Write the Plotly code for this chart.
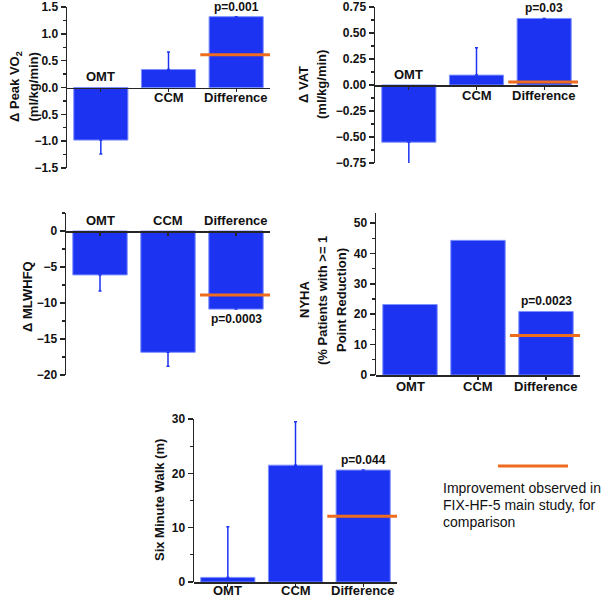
import plotly.graph_objects as go

categories = ["OMT", "CCM", "Difference"]

peak_vo2 = [-0.98, 0.335, 1.32]
peak_vo2_err = [0.26, 0.325, None]
peak_vo2_ref = 0.61
peak_vo2_p = "p=0.001"

vat = [-0.55, 0.095, 0.64]
vat_err = [0.215, 0.262, None]
vat_ref = 0.028
vat_p = "p=0.03"

mlwhfq = [-6.1, -16.85, -10.85]
mlwhfq_err = [2.25, 1.95, None]
mlwhfq_ref = -8.9
mlwhfq_p = "p=0.0003"

nyha = [23.2, 44.3, 20.9]
nyha_ref = 13.0
nyha_p = "p=0.0023"

smw = [0.85, 21.5, 20.6]
smw_err = [9.3, 8.0, None]
smw_ref = 12.1
smw_p = "p=0.044"

W, H = 609, 599
FONT = "Liberation Sans, Arial, sans-serif"
BLUE = "#1c33f2"
EDGE = "#7d90ff"
ORANGE = "#ee6c1e"
AXC = "#262626"

fig = go.Figure()

panels = [
    dict(v=peak_vo2, e=peak_vo2_err, ref=peak_vo2_ref, p=peak_vo2_p, pside="above",
         dom=(67, 270, 7, 168), yr=[-1.5, 1.5], dt=0.5, mdt=0.25, fmt=".1f",
         lab=["above", "below", "below"], zero=True, bshift=-1),
    dict(v=vat, e=vat_err, ref=vat_ref, p=vat_p, pside="above",
         dom=(375, 578, 7, 163), yr=[-0.75, 0.75], dt=0.25, mdt=0.125, fmt=".2f",
         lab=["above", "below", "below"], zero=True, bshift=-1),
    dict(v=mlwhfq, e=mlwhfq_err, ref=mlwhfq_ref, p=mlwhfq_p, pside="below",
         dom=(66, 270, 213, 375), yr=[-20, 2.5], dt=5, mdt=2.5, fmt="",
         lab=["above", "above", "above"], zero=True, bshift=0),
    dict(v=nyha, e=None, ref=nyha_ref, p=nyha_p, pside="above",
         dom=(376, 580, 213, 375), yr=[0, 53.3], dt=10, mdt=5, fmt="",
         lab=["below", "below", "below"], zero=False, bshift=-2),
    dict(v=smw, e=smw_err, ref=smw_ref, p=smw_p, pside="above",
         dom=(194, 397, 419, 582), yr=[0, 30], dt=10, mdt=5, fmt="",
         lab=["below", "below", "below"], zero=False, bshift=1),
]

annotations = []
xs = [0, 1, 2]

for i, pn in enumerate(panels, start=1):
    xa = "x" if i == 1 else f"x{i}"
    ya = "y" if i == 1 else f"y{i}"
    x0, x1, yt, yb = pn["dom"]
    xdom = [x0 / W, x1 / W]
    ydom = [1 - yb / H, 1 - yt / H]

    err = None
    if pn["e"] is not None:
        up = [None if e is None else (e if v >= 0 else 0) for v, e in zip(pn["v"], pn["e"])]
        dn = [None if e is None else (e if v < 0 else 0) for v, e in zip(pn["v"], pn["e"])]
        err = dict(type="data", symmetric=False, array=up, arrayminus=dn,
                   color=BLUE, thickness=1.5, width=1.5)
    fig.add_trace(go.Bar(x=xs, y=pn["v"], width=0.8, marker=dict(color=BLUE, line=dict(color=EDGE, width=1)),
                         error_y=err, xaxis=xa, yaxis=ya, showlegend=False, hoverinfo="skip"))
    fig.add_trace(go.Scatter(x=[1.47, 2.5], y=[pn["ref"], pn["ref"]], mode="lines",
                             line=dict(color=ORANGE, width=3), xaxis=xa, yaxis=ya,
                             showlegend=False, hoverinfo="skip"))

    yr = pn["yr"]
    zero_pos = ydom[0] + (0 - yr[0]) / (yr[1] - yr[0]) * (ydom[1] - ydom[0])
    xkey = "xaxis" if i == 1 else f"xaxis{i}"
    ykey = "yaxis" if i == 1 else f"yaxis{i}"
    fig.update_layout(**{
        xkey: dict(domain=xdom, range=[-0.5, 2.5], anchor="free", position=zero_pos,
                   showline=True, linecolor=AXC, linewidth=1.5, ticks="outside",
                   tickvals=xs, ticklen=3, tickwidth=1.2, tickcolor=AXC, automargin=False,
                   showticklabels=False, showgrid=False, zeroline=False, fixedrange=True),
        ykey: dict(domain=ydom, range=yr, anchor=xa, showline=True, linecolor=AXC, linewidth=1.5,
                   ticks="outside", ticklen=5, tickwidth=1.5, tickcolor=AXC, dtick=pn["dt"], tick0=0,
                   tickformat=pn["fmt"], showgrid=False, zeroline=False, automargin=False,
                   minor=dict(dtick=pn["mdt"], tick0=0, ticks="outside", ticklen=3, tickwidth=1.2, tickcolor=AXC),
                   tickfont=dict(family=FONT, size=12, color="#111", weight="bold"), fixedrange=True),
    })

    ref_y = 0 if pn["zero"] else yr[0]
    for k, (c, side) in enumerate(zip(categories, pn["lab"])):
        annotations.append(dict(x=k, y=ref_y, xref=xa, yref=ya, text=f"<b>{c}</b>", showarrow=False,
                                yanchor="bottom" if side == "above" else "top",
                                yshift=1 if side == "above" else pn["bshift"],
                                font=dict(family=FONT, size=13, color="#111")))
    vd = pn["v"][2]
    annotations.append(dict(x=2, y=vd, xref=xa, yref=ya, text=f"<b>{pn['p']}</b>", showarrow=False,
                            yanchor="bottom" if pn["pside"] == "above" else "top",
                            yshift=1 if pn["pside"] == "above" else -1,
                            font=dict(family=FONT, size=12, color="#111")))

ytitles = [
    ("Δ Peak VO<sub>2</sub>", 16, 87),
    ("(ml/kg/min)", 33.5, 87),
    ("Δ VAT", 304, 85),
    ("(ml/kg/min)", 322, 85),
    ("Δ MLWHFQ", 27, 297),
    ("NYHA", 304, 300),
    ("(% Patients with >= 1", 322, 301),
    ("Point Reduction)", 341, 300),
    ("Six Minute Walk (m)", 159, 500),
]
for t, px, py in ytitles:
    annotations.append(dict(x=px / W, y=1 - py / H, xref="paper", yref="paper", text=f"<b>{t}</b>",
                            textangle=-90, showarrow=False, xanchor="center", yanchor="middle",
                            font=dict(family=FONT, size=13, color="#111")))

legend_lines = ["Improvement observed in", "FIX-HF-5 main study, for", "comparison"]
for t, py in zip(legend_lines, [488, 505, 522]):
    annotations.append(dict(x=441 / W, y=1 - py / H, xref="paper", yref="paper", text=t,
                            showarrow=False, xanchor="left", yanchor="middle",
                            font=dict(family=FONT, size=14, color="#111")))

fig.update_layout(
    width=W, height=H, margin=dict(l=0, r=0, t=0, b=0, autoexpand=False),
    paper_bgcolor="white", plot_bgcolor="white", showlegend=False,
    annotations=annotations, bargap=0.2,
    shapes=[dict(type="line", xref="paper", yref="paper", x0=498 / W, x1=568 / W,
                 y0=1 - 466 / H, y1=1 - 466 / H, line=dict(color=ORANGE, width=3))],
)

fig.write_html("out.html", config={"displayModeBar": False, "staticPlot": True},
               post_script="document.body.style.margin='0';document.body.style.overflow='hidden';")
